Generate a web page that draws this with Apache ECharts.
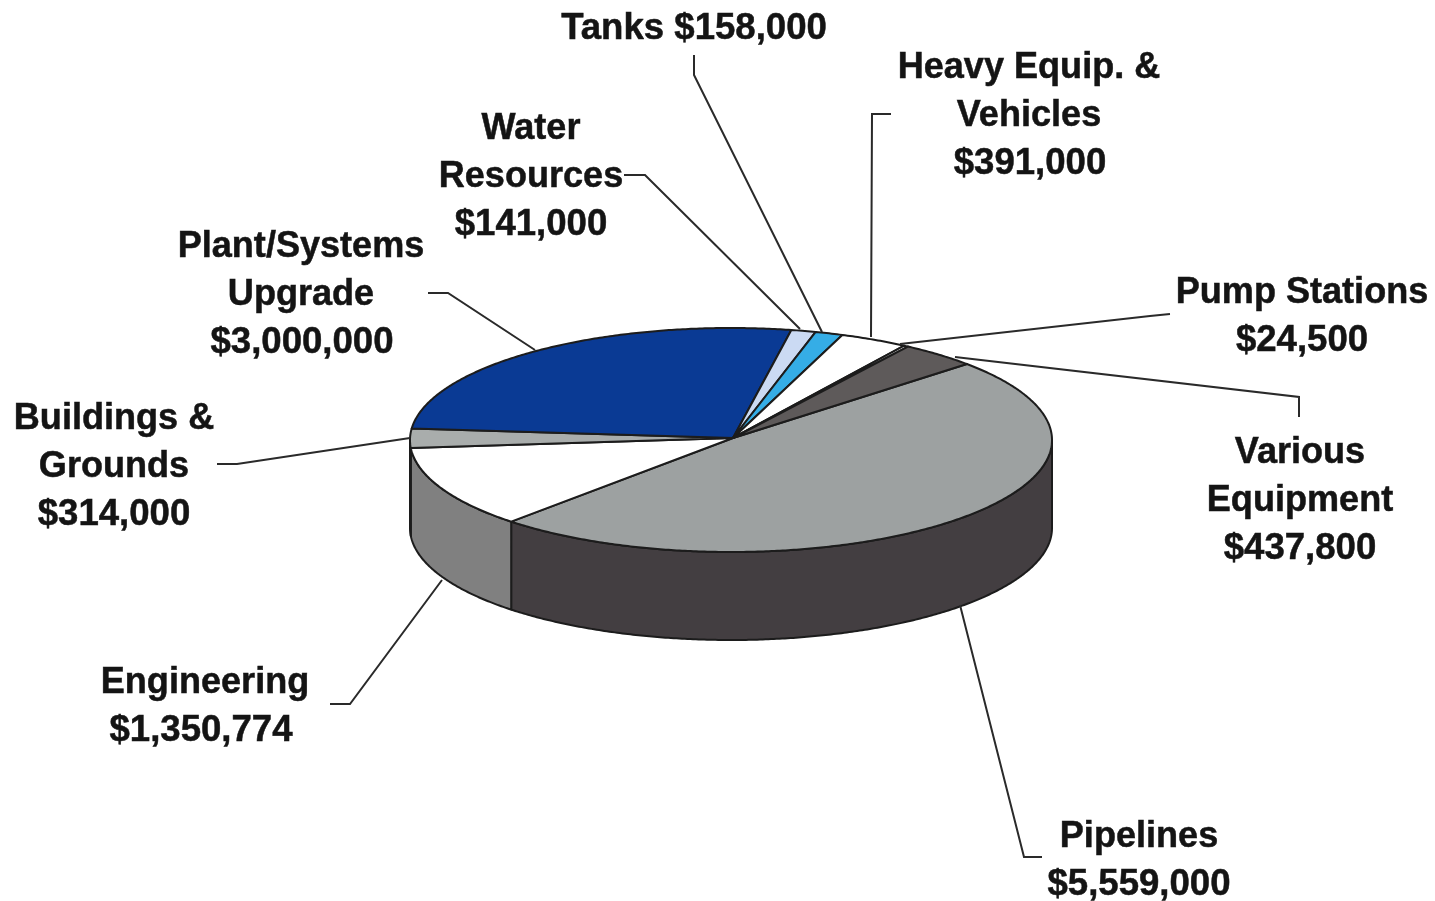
<!DOCTYPE html>
<html>
<head>
<meta charset="utf-8">
<style>html,body{margin:0;padding:0;background:#fff}#chart{width:1435px;height:901px}</style>
<script src="https://cdn.jsdelivr.net/npm/echarts@6/dist/echarts.min.js"></script>
</head>
<body>
<div id="chart"></div>
<script>
// Capital budget by program, clockwise from the Pipelines slice.
const categories = ['Pipelines', 'Engineering', 'Buildings &\nGrounds', 'Plant/Systems\nUpgrade',
  'Water\nResources', 'Tanks', 'Heavy Equip. &\nVehicles', 'Pump Stations', 'Various\nEquipment'];
const amounts = [5559000, 1350774, 314000, 3000000, 141000, 158000, 391000, 24500, 437800];

const topColors = ['#9da1a1', '#ffffff', '#a9adac', '#0a3a94', '#cbdaf3', '#35ade6', '#ffffff', '#ffffff', '#5e5a5a'];
const wallColors = ['#433e41', '#808080', '#808080', '#0a2a6c', '#8a9ab0', '#2078a0', '#808080', '#808080', '#3a3838'];

// Pie geometry in page pixels.
const cx = 731, cy = 440, rx = 321, ry = 112, depth = 88, startDeg = -42.7;
const outline = '#1c1c1c';

// Label anchors (centre x, middle of first row y), leader polylines and
// the sideways nudge of the amount row.
const labelCentres = [[1139, 837], [205, 683], [114, 419], [301, 247], [531, 129], [694, 29], [1029, 68], [1302, 293], [1300, 453]];
const amountNudge = [0, -4, 0, 1, 0, 0, 1, 0, 0];
const leaders = [
  [[1042, 857], [1024, 857], [960, 605]],
  [[330, 704], [350, 704], [442, 580]],
  [[217, 464], [237, 464], [410, 438]],
  [[428, 293], [448, 293], [535, 350]],
  [[624, 175], [645, 175], [800, 329]],
  [[694, 55], [694, 75], [822, 332]],
  [[891, 114], [872, 114], [871, 337]],
  [[1170, 314], [1150, 316], [900, 344]],
  [[1299, 417], [1299, 397], [955, 357]]
];

const total = amounts.reduce((a, b) => a + b, 0);
let running = 0;
const spans = amounts.map(v => {
  const from = startDeg + running / total * 360;
  running += v;
  return [from, startDeg + running / total * 360];
});

function rimPoint(deg, dy) {
  const t = deg * Math.PI / 180;
  return [cx + rx * Math.cos(t), cy + ry * Math.sin(t) + dy];
}
function arc(from, to, dy) {
  const n = Math.max(2, Math.ceil((to - from) * 2));
  const pts = [];
  for (let i = 0; i <= n; i++) pts.push(rimPoint(from + (to - from) * i / n, dy));
  return pts;
}

function renderWall(params) {
  const s = spans[params.dataIndex];
  const from = Math.max(s[0], 0), to = Math.min(s[1], 180);
  if (to <= from) return { type: 'group', children: [] };
  const pts = arc(from, to, 0).concat(arc(from, to, depth).reverse());
  return {
    type: 'polygon',
    shape: { points: pts },
    style: { fill: wallColors[params.dataIndex], stroke: outline, lineWidth: 2, lineJoin: 'round' }
  };
}
function renderTop(params) {
  const s = spans[params.dataIndex];
  const pts = [[cx + 2, cy - 2]].concat(arc(s[0], s[1], 0));
  return {
    type: 'polygon',
    shape: { points: pts },
    style: { fill: topColors[params.dataIndex], stroke: outline, lineWidth: 2, lineJoin: 'round' }
  };
}
function textRow(content, x, y, size) {
  return {
    type: 'text',
    style: {
      x, y, text: content,
      font: 'bold ' + size + 'px "Liberation Sans", Arial, sans-serif',
      fill: '#141414', align: 'center', verticalAlign: 'middle',
      stroke: '#141414', lineWidth: 0.5
    }
  };
}
function renderLabel(params, api) {
  const i = params.dataIndex;
  const money = '$' + api.value(0).toLocaleString('en-US');
  const [x, y] = labelCentres[i];
  const children = [{
    type: 'polyline',
    shape: { points: leaders[i] },
    style: { fill: 'none', stroke: '#2a2a2a', lineWidth: 2 }
  }];
  if (categories[i] === 'Tanks') {
    children.push(textRow(categories[i] + ' ' + money, x, y, 36.6));
  } else {
    const rows = categories[i].split('\n');
    rows.forEach((row, r) => children.push(textRow(row, x, y + r * 48, 36.1)));
    children.push(textRow(money, x + amountNudge[i], y + rows.length * 48, 36.6));
  }
  return { type: 'group', children };
}

const seriesData = categories.map((name, i) => ({ name, value: [amounts[i]] }));
const chart = echarts.init(document.getElementById('chart'), null, { renderer: 'canvas' });
chart.setOption({
  backgroundColor: '#ffffff',
  animation: false,
  series: [
    { type: 'custom', coordinateSystem: 'none', renderItem: renderWall, data: seriesData, z: 1, silent: true },
    { type: 'custom', coordinateSystem: 'none', renderItem: renderTop, data: seriesData, z: 2, silent: true },
    { type: 'custom', coordinateSystem: 'none', renderItem: renderLabel, data: seriesData, z: 3, silent: true }
  ]
});
</script>
</body>
</html>
